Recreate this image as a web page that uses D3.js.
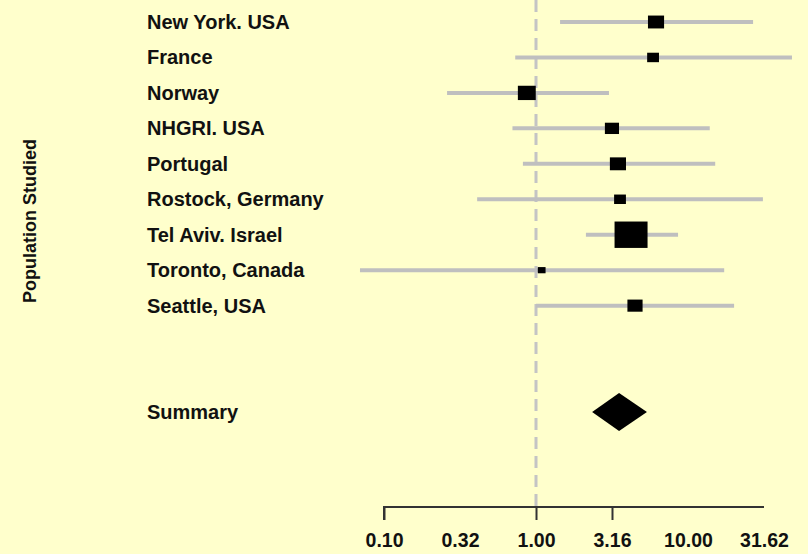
<!DOCTYPE html>
<html>
<head>
<meta charset="utf-8">
<script src="https://cdn.jsdelivr.net/npm/d3@7"></script>
<style>
  body{margin:0;background:#ffffcc;}
  svg{display:block;}
</style>
</head>
<body>
<svg id="chart" width="808" height="554"></svg>
<script>
const studies=["New York. USA","France","Norway","NHGRI. USA","Portugal","Rostock, Germany","Tel Aviv. Israel","Toronto, Canada","Seattle, USA"];
const estimate=[6.16,5.89,0.87,3.16,3.46,3.57,4.22,1.09,4.48];
const lower=[1.44,0.73,0.26,0.70,0.82,0.41,2.13,0.0695,1.0];
const upper=[26.8,48.3,3.02,13.9,15.1,31.1,8.6,17.3,20.1];
const weight=[2.6,1.4,3.2,2.0,2.6,1.4,10.9,0.6,2.3];
const summary={label:"Summary",est:3.52,lo:2.34,hi:5.37};
const tickVals=[0.1,0.3162,1,3.162,10,31.62];
const tickLabels=["0.10","0.32","1.00","3.16","10.00","31.62"];

const svg=d3.select("#chart");
const W=808,H=554;
const font="Liberation Sans, Arial, sans-serif";
svg.append("rect").attr("width",W).attr("height",H).attr("fill","#ffffcc");

const x=d3.scaleLog().domain([0.1,31.62]).range([384,764]);
const y=d3.scaleLinear().domain([0,11]).range([22,412]);
const box=d3.scaleSqrt().domain([0,10.9]).range([0,33]);
const axisY=507;

// reference line at 1
svg.append("line")
  .attr("x1",x(1)).attr("x2",x(1))
  .attr("y1",0).attr("y2",axisY)
  .attr("stroke","#c4c4c4").attr("stroke-width",3)
  .attr("stroke-dasharray","12,7");

const rows=studies.map((s,i)=>({s,i,est:estimate[i],lo:lower[i],hi:upper[i],w:weight[i]}));

svg.selectAll(".ci").data(rows).enter().append("line")
  .attr("class","ci")
  .attr("x1",d=>x(d.lo)).attr("x2",d=>Math.min(x(d.hi),W))
  .attr("y1",d=>y(d.i)).attr("y2",d=>y(d.i))
  .attr("stroke","#bfbfbf").attr("stroke-width",4);

svg.selectAll(".box").data(rows).enter().append("rect")
  .attr("class","box")
  .attr("x",d=>x(d.est)-box(d.w)/2)
  .attr("y",d=>y(d.i)-box(d.w)*0.8/2)
  .attr("width",d=>box(d.w))
  .attr("height",d=>box(d.w)*0.8)
  .attr("fill","#000");

svg.selectAll(".lab").data(rows).enter().append("text")
  .attr("class","lab")
  .attr("x",147).attr("y",d=>y(d.i))
  .attr("dy","0.35em")
  .attr("font-family",font)
  .attr("font-weight","bold").attr("font-size",20)
  .attr("fill","#111")
  .text(d=>d.s);

// summary diamond
const sy=y(11);
svg.append("path")
  .attr("d",`M${x(summary.lo)},${sy}L${x(summary.est)},${sy-19}L${x(summary.hi)},${sy}L${x(summary.est)},${sy+19}Z`)
  .attr("fill","#000");
svg.append("text")
  .attr("x",147).attr("y",sy).attr("dy","0.35em")
  .attr("font-family",font)
  .attr("font-weight","bold").attr("font-size",20)
  .attr("fill","#111")
  .text(summary.label);

// x axis
const ax=svg.append("g").attr("transform",`translate(0,${axisY})`)
  .call(d3.axisBottom(x).tickValues(tickVals).tickSize(13).tickPadding(13)
    .tickFormat((d,i)=>tickLabels[i]));
ax.select(".domain").attr("stroke","#333").attr("stroke-width",2).attr("d",`M${x(0.1)},13V0H${x(31.62)}`);
ax.selectAll(".tick line").attr("stroke","#333").attr("stroke-width",2)
  .attr("y2",(d,i)=>[0,2,3].includes(i)?13:0);
ax.selectAll(".tick text")
  .attr("font-family",font)
  .attr("font-weight","bold").attr("font-size",19.5).attr("fill","#111");

// y title
svg.append("text")
  .attr("transform","translate(30,221) rotate(-90)")
  .attr("text-anchor","middle").attr("dy","0.35em")
  .attr("font-family",font)
  .attr("font-weight","bold").attr("font-size",18)
  .attr("fill","#111")
  .text("Population Studied");
</script>
</body>
</html>
